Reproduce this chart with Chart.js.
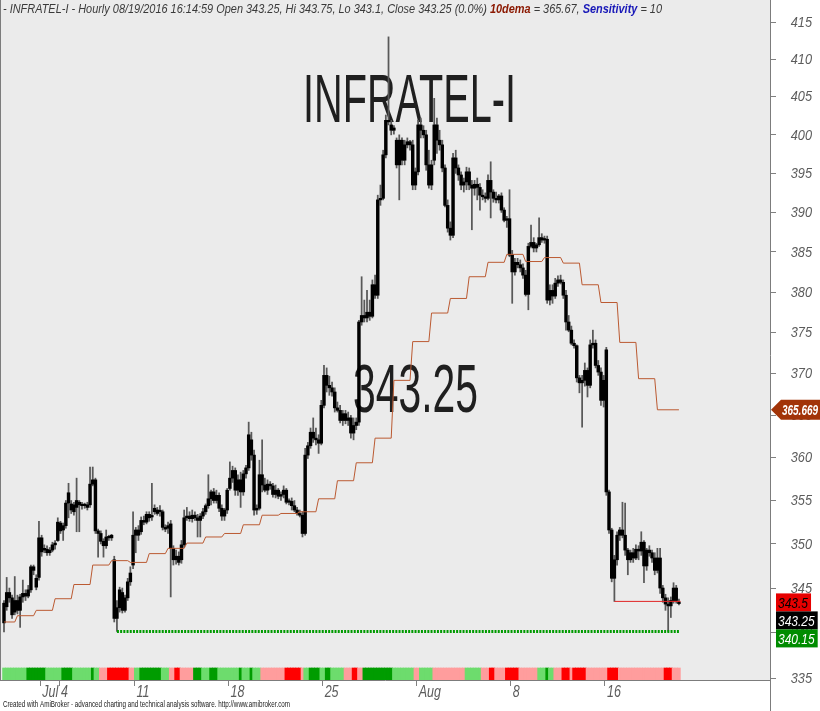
<!DOCTYPE html>
<html>
<head>
<meta charset="utf-8">
<script src="https://cdn.jsdelivr.net/npm/chart.js"></script>
<style>
html,body{margin:0;padding:0;background:#fff;overflow:hidden}
#c{display:block}
</style>
</head>
<body>
<canvas id="c" width="820" height="711"></canvas>
<script>
// ---- data (hourly bars, Jun 29 - Aug 19 2016, 7 bars per day) ----
const opens = [
343.3,342.9,344.5,343.9,342.3,343.6,342.5,
344.0,344.4,344.1,344.8,347.4,346.1,346.2,
350.7,349.3,349.4,349.0,349.3,349.9,350.4,
352.4,351.6,352.1,354.7,353.9,354.5,354.2,
354.8,354.5,354.4,354.5,354.5,356.9,357.4,
351.5,351.2,350.3,349.8,350.8,351.0,348.2,
341.6,342.8,344.5,342.5,343.9,345.7,347.6,
351.0,351.6,351.4,352.7,352.5,353.4,353.1,
353.7,353.9,353.7,353.7,351.9,351.8,352.3,
349.5,348.2,348.6,348.2,349.9,353.0,353.2,
352.9,353.3,353.0,352.7,353.2,353.7,354.4,
355.2,356.0,355.0,355.6,354.1,353.2,353.9,
356.4,357.6,358.5,356.2,357.4,356.0,358.1,
358.8,362.1,360.3,353.9,354.1,358.0,356.8,
356.2,356.9,356.7,355.7,356.2,355.5,355.7,
356.2,354.8,354.9,354.4,353.9,353.5,353.3,
351.2,360.3,361.4,363.0,362.3,362.1,361.7,
366.2,369.8,368.6,368.3,367.8,365.9,365.6,
364.4,365.2,364.4,364.7,362.9,363.8,364.2,
376.3,377.1,376.8,377.5,377.0,380.9,379.6,
391.6,391.8,397.4,401.9,401.3,400.6,399.3,
396.1,399.3,396.7,398.7,399.1,398.7,393.5,
395.2,401.3,400.6,400.0,396.1,393.5,396.7,
401.3,399.3,398.7,395.7,390.9,388.0,387.1,
397.0,395.7,394.8,393.5,393.9,395.2,393.5,
393.1,393.6,393.2,392.2,392.0,391.8,394.1,
392.6,391.8,391.6,392.1,390.3,389.0,389.2,
384.6,382.5,383.7,383.4,383.0,382.1,379.7,
385.7,386.2,385.5,385.9,386.8,386.5,386.6,
379.0,380.2,379.5,381.1,381.5,381.2,379.6,
376.3,375.3,373.7,373.4,369.5,368.9,369.2,
370.4,368.6,373.5,373.7,371.0,370.2,366.8,
372.9,356.0,351.6,346.1,348.2,351.0,351.6,
351.0,349.3,348.2,349.0,348.4,349.4,349.2,
350.2,347.5,349.3,349.0,348.4,347.0,348.4,
345.0,343.9,343.2,343.0,343.6,345.0,343.25];
const highs = [
343.6,346.2,345.0,344.2,346.3,344.2,344.3,
345.9,344.8,345.3,347.6,347.6,346.5,352.6,
351.0,349.9,349.8,349.6,350.2,350.4,353.0,
352.6,352.4,355.0,357.0,355.0,354.8,357.6,
355.0,354.8,354.7,354.8,358.9,358.9,357.6,
351.7,351.5,350.6,351.6,351.0,351.1,348.6,
343.6,345.1,345.0,344.2,346.1,347.4,353.7,
351.9,352.1,353.1,353.2,353.7,353.7,357.0,
354.5,354.2,354.4,353.9,352.2,352.5,352.7,
349.8,349.3,349.1,350.4,353.9,354.2,353.7,
353.9,353.7,353.4,353.5,354.1,354.6,358.0,
356.2,356.4,356.2,355.9,354.5,354.1,356.4,
359.5,359.0,358.8,358.0,358.3,358.5,359.1,
364.2,363.0,360.9,354.5,359.7,362.1,357.6,
357.4,357.2,357.0,356.8,356.4,356.0,356.7,
356.4,355.2,355.3,355.0,354.2,353.9,353.7,
361.1,361.8,363.5,364.7,363.5,362.7,366.8,
371.0,370.7,369.7,369.0,368.3,366.6,366.2,
365.6,365.6,365.4,365.0,364.7,364.7,376.5,
381.9,379.0,380.2,379.0,381.5,382.1,392.2,
393.5,398.0,402.6,413.0,401.9,401.2,399.6,
400.0,399.6,399.3,399.6,399.3,399.3,395.7,
401.9,402.2,401.2,400.6,398.0,396.7,404.8,
402.2,400.6,399.3,396.1,391.6,388.8,397.6,
398.0,396.1,395.2,394.4,395.8,395.7,394.1,
394.1,394.4,393.7,392.9,392.5,394.8,396.5,
392.9,392.6,392.3,392.5,390.6,389.5,392.9,
385.2,384.2,384.2,384.0,383.5,382.7,386.1,
388.4,386.8,386.1,389.3,387.3,387.0,387.0,
380.9,380.9,381.7,382.0,382.1,381.5,380.2,
377.1,375.8,374.1,373.5,369.8,369.8,371.3,
370.7,374.1,375.3,374.1,371.6,370.7,369.8,
373.2,356.2,351.8,348.7,351.4,351.9,354.8,
354.7,349.5,349.3,349.5,349.9,349.8,351.4,
350.4,349.5,349.8,349.3,349.0,349.5,349.5,
345.3,344.3,343.9,344.0,345.6,345.3,343.75];
const lows = [
340.1,342.5,343.4,341.6,342.0,342.1,340.6,
343.4,343.6,343.9,344.5,346.5,344.8,345.9,
348.6,349.0,348.7,348.7,349.1,349.4,350.3,
351.2,350.4,351.8,353.0,353.5,353.3,351.4,
351.4,354.0,354.1,353.9,354.2,356.7,351.2,
348.5,350.0,348.5,349.5,350.4,350.4,341.2,
340.15,342.3,342.2,342.3,343.6,345.3,347.2,
349.0,350.4,351.1,352.2,352.3,352.6,352.7,
353.4,353.3,353.2,351.6,351.4,351.2,344.0,
347.6,347.7,347.6,347.8,349.6,352.7,352.6,
352.5,352.7,350.8,350.8,352.9,353.4,354.1,
354.5,354.7,354.7,353.7,352.7,352.7,353.5,
356.2,357.1,355.6,355.6,354.2,355.6,357.6,
358.5,359.7,353.3,353.4,353.9,356.0,356.0,
355.7,356.3,355.4,355.3,355.2,355.0,355.3,
354.6,354.5,353.9,353.7,353.3,353.1,350.8,
351.0,359.9,361.1,361.8,361.5,360.5,361.5,
365.9,367.8,367.4,367.3,365.4,365.4,364.1,
363.8,364.0,363.8,362.3,362.1,363.3,363.8,
375.9,376.3,376.3,376.5,376.8,379.2,379.2,
390.9,391.6,397.0,401.3,400.0,400.1,395.7,
391.6,396.1,396.1,398.3,398.0,392.9,392.9,
394.8,399.6,399.6,395.4,393.1,392.9,396.1,
397.6,398.0,395.2,390.7,387.5,386.5,386.8,
395.0,394.1,392.9,392.6,392.9,392.9,387.8,
392.2,391.6,390.3,391.6,391.3,391.6,389.3,
391.3,391.2,391.2,390.0,388.8,388.1,384.4,
378.6,382.1,383.0,382.5,381.7,379.5,377.8,
385.5,385.0,385.0,385.7,386.2,386.1,378.6,
378.4,378.6,379.2,380.7,381.0,379.2,375.3,
375.1,373.5,373.1,369.0,367.7,363.6,368.5,
367.2,368.3,373.1,370.7,369.8,366.2,366.0,
355.6,351.2,345.7,343.5,347.6,350.4,350.7,
348.7,346.5,347.9,347.9,348.2,348.2,348.7,
345.6,347.0,348.6,347.9,346.5,346.7,344.4,
343.4,342.5,340.15,341.7,343.3,343.3,343.1];
const closes = [
341.1,344.5,343.9,342.0,343.6,342.5,344.0,
344.4,344.1,344.8,347.4,347.0,345.1,350.7,
349.1,349.5,349.0,349.3,349.9,350.1,352.5,
351.5,352.1,354.7,355.9,354.6,353.7,355.0,
354.5,354.4,354.5,354.2,356.9,357.4,351.5,
351.2,350.3,349.8,350.8,350.7,350.7,341.6,
342.8,344.8,342.5,343.9,345.7,346.7,351.0,
351.6,351.0,352.7,352.5,353.4,353.0,353.2,
354.1,353.5,353.8,351.9,351.7,352.1,349.5,
348.2,348.6,347.9,349.9,353.0,353.2,352.9,
353.3,353.0,352.7,353.2,353.7,354.4,355.2,
356.0,355.0,355.6,354.1,353.2,353.9,356.2,
357.6,358.5,356.2,357.4,356.0,358.1,358.8,
362.7,360.3,353.9,354.1,358.0,356.8,356.2,
356.9,356.7,355.7,356.2,355.5,355.7,356.2,
354.8,354.9,354.4,353.9,353.5,353.3,351.2,
360.3,361.4,363.0,362.3,362.1,361.7,366.2,
369.8,368.6,368.3,367.8,365.9,365.6,364.4,
365.2,364.4,364.7,362.9,363.8,364.2,376.3,
377.1,376.8,377.5,377.0,380.9,379.6,391.6,
391.8,397.4,401.9,401.7,400.6,400.9,396.1,
399.3,396.7,398.7,399.1,398.7,393.5,395.2,
401.3,400.6,400.0,396.1,393.5,396.1,401.3,
399.3,398.7,395.7,390.9,388.0,387.1,397.0,
395.7,394.8,393.5,393.9,395.2,393.5,393.1,
393.6,393.2,392.2,392.0,391.8,394.1,392.6,
391.8,391.6,392.1,390.3,389.0,389.2,384.6,
382.5,383.7,383.4,383.0,382.1,379.7,385.7,
386.2,385.5,385.9,386.8,386.5,386.6,379.0,
380.2,379.5,381.1,381.5,381.2,379.6,376.3,
375.3,373.7,373.4,369.5,368.9,369.2,370.4,
368.6,373.5,373.7,371.0,370.2,366.8,369.2,
356.0,351.6,346.1,348.2,351.0,351.6,351.0,
349.3,348.2,349.0,348.4,349.4,349.2,350.2,
347.5,349.3,349.0,348.4,347.0,348.4,345.0,
343.9,343.2,343.0,343.6,345.0,343.6,343.25];

// 10-day EMA of the daily bars, one level per session (shown as steps)
const demaLevels = [341.2,341.9,342.5,343.8,345.4,347.6,348.1,347.9,348.9,349.5,350.1,350.8,
  351.2,352.2,353.3,353.5,353.7,355.2,357.3,359.4,362.3,369.2,373.9,377.4,379.2,381.9,
  383.7,384.7,383.8,384.3,383.6,380.9,378.7,373.8,369.4,365.669];

// ribbon state per bar: G light green, D dark green, P pink, R red
const ribbonCodes = [
 'GGGGGGGGG','DDDDDDD','GGGGGG','DDDD','GGGGGGG','D','GG','PPP','RRRRRRRR','PP',
 'GG','DDDDDDDD','GGG','PP','RR','PPPPP','DDD','GGG','DDD','GGGGGGGG','D','GGG','D','GGG',
 'PPPPPPPPP','RRRRRR','P','GG','DDDD','GG','DD','GGGGG','PPP','RR','PP','DDDDDDDDDDD',
 'GGGGGGGG','PP','GGGGG','PPPPPPPPPPPP','GGGGGG','PPP','RR','PPPP','RRRRR','PPPPPPP','GGG','D','GG',
 'PPP','RRR','P','RRRRR','PPPPPPPP','RRRR','PPPPPPPPPPPPPPPPP','RRR','PPP'
].join('');

const xTickBars   = [13.5, 20.5, 48.5, 83.5, 118.5, 153.5, 188.5, 223.5];
const xTickLabels = ['Jul', '4', '11', '18', '25', 'Aug', '8', '16'];
const yTickValues = [335,340,345,350,355,360,365,370,375,380,385,390,395,400,405,410,415];

const supportLevel = 340.15, supportStartBar = 42;
const resistLevel = 343.5, resistStartBar = 227;
const lastDema = 365.669;
const lastClose = 343.25;
const symbolName = 'INFRATEL-I';

// ---- build chart structures ----
const N = closes.length;
if (opens.length !== N || highs.length !== N || lows.length !== N || ribbonCodes.length !== N) {
  throw new Error('length mismatch ' + [opens.length, highs.length, lows.length, N, ribbonCodes.length].join(','));
}
const wickData = closes.map((c, i) => ({x: i, y: [lows[i], highs[i]]}));
const bodyData = closes.map((c, i) => ({x: i, y: [Math.min(opens[i], c), Math.max(opens[i], c)]}));
const ribbonPalette = {G: '#6ddc6d', D: '#009c00', P: '#ff9d9d', R: '#ff0000'};
const ribbonData = ribbonCodes.split('').map((c, i) => ({x: i, y: [0, 1]}));
const ribbonColors = ribbonCodes.split('').map(c => ribbonPalette[c]);
const demaData = [];
demaLevels.forEach((v, s) => {
  const a = Math.max(0, 7 * s - 2);
  const b = (s === demaLevels.length - 1) ? N - 1 : 7 * s + 4;
  demaData.push({x: a, y: v}, {x: b, y: v});
});
const supportData = [{x: supportStartBar, y: supportLevel}, {x: N - 1, y: supportLevel}];
const resistData = [{x: resistStartBar, y: resistLevel}, {x: N - 0.4, y: resistLevel}];

const FONT = '"Liberation Sans", Arial, Helvetica, sans-serif';

function drawFit(ctx, text, x, y, w, align) {
  const m = ctx.measureText(text).width;
  ctx.save();
  ctx.translate(x, y);
  ctx.scale(w / m, 1);
  ctx.textAlign = align || 'left';
  ctx.fillText(text, 0, 0);
  ctx.restore();
}
function drawScaled(ctx, text, x, y, sx, align) {
  ctx.save();
  ctx.translate(x, y);
  ctx.scale(sx, 1);
  ctx.textAlign = align || 'left';
  ctx.fillText(text, 0, 0);
  ctx.restore();
  return ctx.measureText(text).width * sx;
}

const paint = {
  id: 'paint',
  beforeDraw(chart) {
    const {ctx, chartArea: a} = chart;
    ctx.save();
    ctx.fillStyle = '#ffffff';
    ctx.fillRect(0, 0, chart.width, chart.height);
    ctx.fillStyle = '#ebebeb';
    ctx.fillRect(0, 0, a.right, a.bottom);
    ctx.restore();
  },
  beforeDatasetsDraw(chart) {
    const {ctx} = chart;
    ctx.save();
    ctx.fillStyle = '#1f1f1f';
    ctx.textBaseline = 'alphabetic';
    ctx.font = '68px ' + FONT;
    drawFit(ctx, symbolName, 303, 122, 213);
    drawFit(ctx, lastClose.toFixed(2), 353, 412, 125);
    ctx.restore();
  },
  afterDraw(chart) {
    const {ctx, chartArea: a} = chart;
    const ys = chart.scales.y, xs = chart.scales.x;
    ctx.save();
    // frame lines
    ctx.strokeStyle = '#7c7c7c';
    ctx.lineWidth = 1;
    ctx.beginPath();
    ctx.moveTo(0.5, 0); ctx.lineTo(0.5, a.bottom);
    ctx.moveTo(0, a.bottom + 0.5); ctx.lineTo(a.right + 1, a.bottom + 0.5);
    ctx.moveTo(a.right + 0.5, 0); ctx.lineTo(a.right + 0.5, chart.height);
    ctx.stroke();

    // y labels
    ctx.fillStyle = '#5c5c5c';
    ctx.font = 'italic 15px ' + FONT;
    ctx.textBaseline = 'middle';
    yTickValues.forEach(v => {
      drawScaled(ctx, String(v), 812, ys.getPixelForValue(v) + 0.5, 0.85, 'right');
    });
    // x labels
    ctx.textBaseline = 'alphabetic';
    ctx.font = 'italic 16px ' + FONT;
    xTickBars.forEach((b, k) => {
      drawScaled(ctx, xTickLabels[k], xs.getPixelForValue(b) + 2, 697, 0.78, 'left');
    });

    // last-value tags
    ctx.textBaseline = 'middle';
    const yd = ys.getPixelForValue(lastDema);
    ctx.fillStyle = '#a23408';
    ctx.beginPath();
    ctx.moveTo(a.right + 1, yd);
    ctx.lineTo(a.right + 11, yd - 10);
    ctx.lineTo(820, yd - 10);
    ctx.lineTo(820, yd + 10);
    ctx.lineTo(a.right + 11, yd + 10);
    ctx.closePath();
    ctx.fill();
    ctx.fillStyle = '#ffffff';
    ctx.font = 'italic bold 14px ' + FONT;
    drawFit(ctx, String(lastDema), 782, yd + 1, 36);

    ctx.font = 'italic 15px ' + FONT;
    const tags = [
      {v: resistLevel, bg: '#e60000', fg: '#000000', t: String(resistLevel)},
      {v: lastClose,   bg: '#000000', fg: '#ffffff', t: lastClose.toFixed(2)},
      {v: supportLevel, bg: '#008c00', fg: '#ffffff', t: supportLevel.toFixed(2)}
    ];
    let prev = -1e9;
    tags.forEach(tg => {
      let yc = Math.max(ys.getPixelForValue(tg.v) + 1, prev + 18);
      prev = yc;
      const tw = ctx.measureText(tg.t).width * 0.8;
      ctx.fillStyle = tg.bg;
      ctx.fillRect(776, yc - 9, tw + 5, 18);
      ctx.fillStyle = tg.fg;
      drawScaled(ctx, tg.t, 778, yc + 1, 0.8, 'left');
    });

    // title line
    const parts = [
      {t: '- ' + symbolName + ' - Hourly 08/19/2016 16:14:59 Open 343.25, Hi 343.75, Lo 343.1, Close 343.25 (0.0%) ', c: '#3a3a3a', b: false},
      {t: '10dema', c: '#8b1800', b: true},
      {t: ' = 365.67, ', c: '#3a3a3a', b: false},
      {t: 'Sensitivity', c: '#1818b8', b: true},
      {t: ' = 10', c: '#3a3a3a', b: false}
    ];
    ctx.textBaseline = 'alphabetic';
    let total = 0;
    parts.forEach(p => { ctx.font = (p.b ? 'italic bold ' : 'italic ') + '13px ' + FONT; p.w = ctx.measureText(p.t).width; total += p.w; });
    const sx = 659 / total;
    ctx.save();
    ctx.translate(3, 13);
    ctx.scale(sx, 1);
    let cx = 0;
    parts.forEach(p => {
      ctx.font = (p.b ? 'italic bold ' : 'italic ') + '13px ' + FONT;
      ctx.fillStyle = p.c;
      ctx.textAlign = 'left';
      ctx.fillText(p.t, cx, 0);
      cx += p.w;
    });
    ctx.restore();

    // footer
    ctx.fillStyle = '#1a1a1a';
    ctx.font = '9px ' + FONT;
    drawFit(ctx, 'Created with AmiBroker - advanced charting and technical analysis software. http://www.amibroker.com', 3, 707, 287);
    ctx.restore();
  }
};

new Chart(document.getElementById('c').getContext('2d'), {
  type: 'bar',
  data: {
    datasets: [
      {type: 'line', label: 'Level 343.5', data: resistData, borderColor: '#e02424', borderWidth: 1,
       pointRadius: 0, order: 0},
      {type: 'line', label: 'Support 340.15', data: supportData, borderColor: '#009a00', borderWidth: 3,
       borderDash: [2, 1.2], borderCapStyle: 'butt', pointRadius: 0, order: 1},
      {type: 'line', label: '10dema', data: demaData, borderColor: '#bb5a32', borderWidth: 1,
       pointRadius: 0, tension: 0, order: 2},
      {type: 'bar', label: 'Body', data: bodyData, backgroundColor: '#000000', barThickness: 2.8,
       minBarLength: 1.5, grouped: false, order: 3},
      {type: 'bar', label: 'Wick', data: wickData, backgroundColor: '#595959', barThickness: 1.1,
       grouped: false, order: 4},
      {type: 'bar', label: 'Ribbon', data: ribbonData, backgroundColor: ribbonColors, barThickness: 2.9,
       grouped: false, yAxisID: 'yR', order: 5}
    ]
  },
  options: {
    responsive: false,
    devicePixelRatio: 1,
    animation: false,
    events: [],
    layout: {padding: {left: 2, right: 0, top: 0, bottom: 0}},
    plugins: {legend: {display: false}, tooltip: {enabled: false}, title: {display: false}},
    scales: {
      x: {
        type: 'linear', min: -0.744, max: 284.87, offset: false, bounds: 'data',
        grid: {display: true, drawOnChartArea: false, drawTicks: true, tickLength: 6, color: '#808080', offset: false},
        border: {display: false},
        ticks: {display: false},
        afterBuildTicks: s => { s.ticks = xTickBars.map(v => ({value: v})); },
        afterFit: s => { s.height = 31; }
      },
      y: {
        type: 'logarithmic', position: 'right', min: 334.8, max: 418, bounds: 'data', beginAtZero: false,
        grid: {display: true, drawOnChartArea: false, drawTicks: true, tickLength: 6, color: '#808080'},
        border: {display: false},
        ticks: {display: false},
        afterBuildTicks: s => { s.ticks = yTickValues.map(v => ({value: v})); },
        afterFit: s => { s.width = 50; }
      },
      yR: {type: 'linear', display: false, min: 0, max: 680 / 12, position: 'left'}
    }
  },
  plugins: [paint]
});
</script>
</body>
</html>
